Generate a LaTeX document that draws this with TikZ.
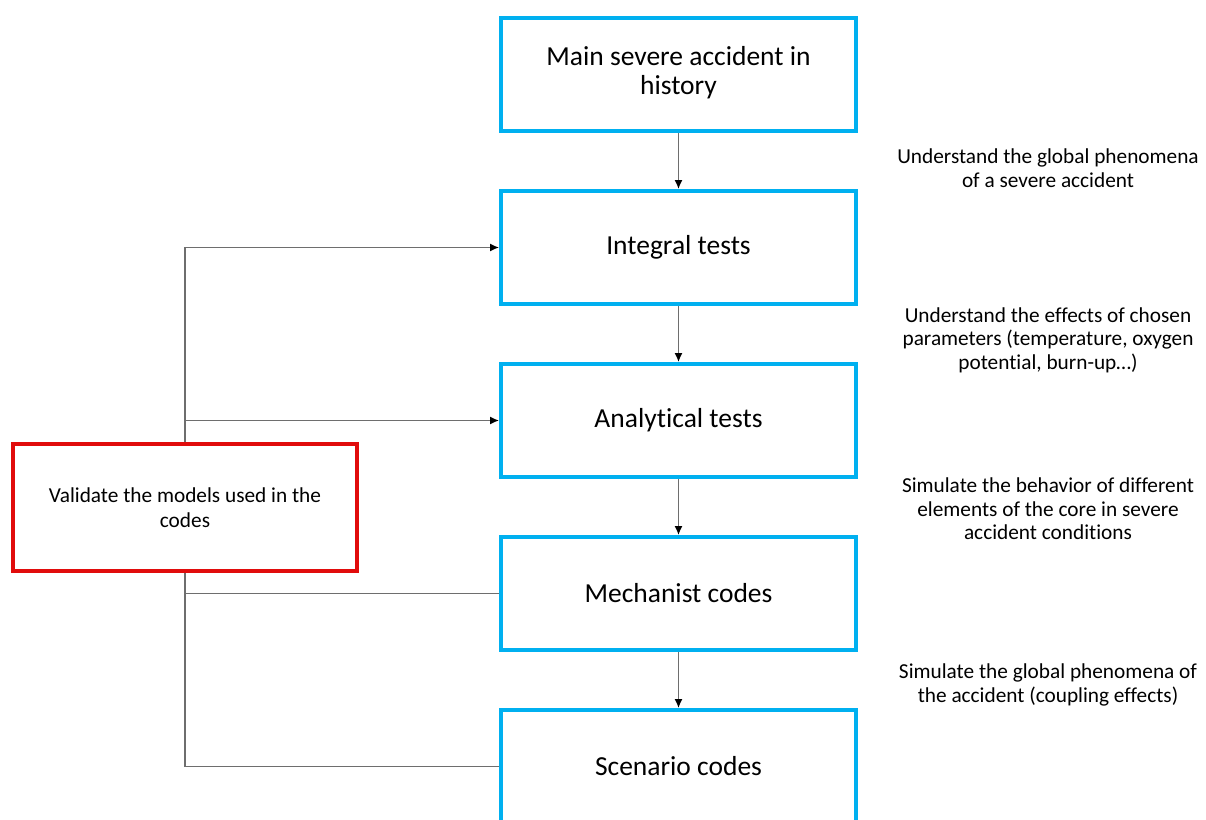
\documentclass[tikz,border=0pt]{standalone}
\usepackage{fontspec}
\setmainfont[Ligatures=CommonOff]{Carlito}
\usetikzlibrary{arrows.meta}
\definecolor{boxblue}{RGB}{0,176,240}
\definecolor{boxred}{RGB}{225,12,12}
\definecolor{connc}{RGB}{110,110,110}
\begin{document}
\begin{tikzpicture}[x=1pt,y=-1pt,
  stepbox/.style={draw=boxblue,line width=4pt,minimum width=355pt,minimum height=113pt,align=center,inner sep=0pt,font=\fontsize{27.5}{29}\selectfont},
  redbox/.style={draw=boxred,line width=4pt,minimum width=344pt,minimum height=127pt,align=center,inner sep=0pt,font=\fontsize{21.3}{25}\selectfont},
  note/.style={align=center,font=\fontsize{21.3}{23.5}\selectfont,inner sep=0pt},
  conn/.style={draw=connc,line width=1.4pt},
  arr/.style={conn,-{Latex[length=9pt,width=8pt,color=black]}}]
\useasboundingbox (0,0) rectangle (1206,819);
\clip (0,0) rectangle (1206,819);
\fill[white] (0,0) rectangle (1206,819);
\node[stepbox] (b1) at (678.5,74.5) {\raisebox{-3pt}{\begin{tabular}{@{}c@{}}Main severe accident in\\history\end{tabular}}};
\node[stepbox] (b2) at (678.5,247.5) {Integral tests};
\node[stepbox] (b3) at (678.5,420.5) {Analytical tests};
\node[stepbox] (b4) at (678.5,593.5) {Mechanist codes};
\node[stepbox] (b5) at (678.5,766.5) {Scenario codes};
\node[redbox] (val) at (185,507.5) {Validate the models used in the\\codes};
\node[note] (n1) at (1048,168) {Understand the global phenomena\\of a severe accident};
\node[note] (n2) at (1048,340) {Understand the effects of chosen\\parameters (temperature, oxygen\\potential, burn-up…)};
\node[note] (n3) at (1048,509) {Simulate the behavior of different\\elements of the core in severe\\accident conditions};
\node[note] (n4) at (1048,685) {Simulate the global phenomena of\\the accident (coupling effects)};
\draw[arr] (b1) -- (b2);
\draw[arr] (b2) -- (b3);
\draw[arr] (b3) -- (b4);
\draw[arr] (b4) -- (b5);
\draw[arr] (val.north) |- (b2.west);
\draw[arr] (val.north) |- (b3.west);
\draw[conn] (val.south) |- (b4.west);
\draw[conn] (val.south) |- (b5.west);
\end{tikzpicture}
\end{document}
